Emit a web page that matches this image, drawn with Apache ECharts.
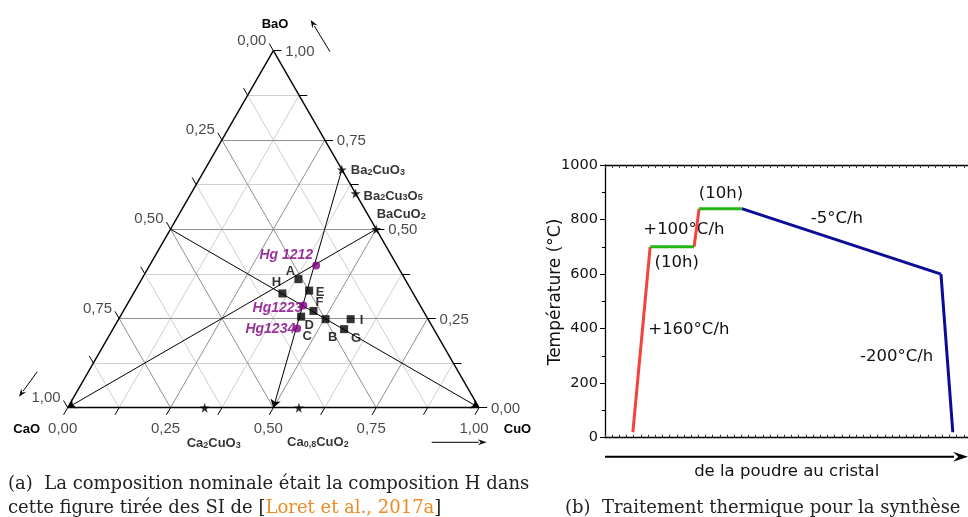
<!DOCTYPE html>
<html><head><meta charset="utf-8">
<script src="https://cdn.jsdelivr.net/npm/echarts@6/dist/echarts.min.js"></script>
<style>html,body{margin:0;padding:0;background:#fff;}#c{width:968px;height:517px;}</style>
</head><body><div id="c"></div>
<script>
// ===== (a) ternary diagram data: fractions of BaO and CuO (CaO = 1 - BaO - CuO)
const tickValues = [0, 0.25, 0.5, 0.75, 1];
const tickSteps = [0, 0.125, 0.25, 0.375, 0.5, 0.625, 0.75, 0.875, 1];
const gridSteps = [0.125, 0.25, 0.375, 0.5, 0.625, 0.75, 0.875];
const sampleNames = ['A', 'E', 'H', 'F', 'D', 'B', 'I', 'G', 'C'];
const sampleBaO   = [0.360, 0.328, 0.320, 0.271, 0.255, 0.248, 0.248, 0.220, 0.222];
const sampleCuO   = [0.381, 0.423, 0.362, 0.462, 0.440, 0.503, 0.564, 0.562, 0.447];
const hgNames = ['Hg 1212', 'Hg1223', 'Hg1234'];
const hgBaO   = [0.398, 0.286, 0.222];
const hgCuO   = [0.405, 0.430, 0.447];
const phaseNames = ['Ba2CuO3', 'Ba2Cu3O5', 'BaCuO2', 'Ca2CuO3', 'Ca0,8CuO2'];
const phaseBaO   = [0.667, 0.600, 0.500, 0, 0];
const phaseCuO   = [0.333, 0.400, 0.500, 0.333, 0.562];
const tieFromBaO = [0.5, 0.5, 0.667];
const tieFromCuO = [0.5, 0.0, 0.333];
const tieToBaO   = [0, 0, 0];
const tieToCuO   = [0, 1, 0.5];

// ===== (b) thermal treatment: time (h, arbitrary origin) and temperature (°C)
const rampTime  = [6.6, 10.7, 21.1, 22.3, 32.4, 79.6, 82.4];
const rampTemp  = [20, 700, 700, 840, 840, 600, 20];
const segColors = ['#f2443a', '#22b514', '#f2443a', '#22b514', '#0b0b98', '#0b0b98'];
const yTicks = [0, 200, 400, 600, 800, 1000];

// ---------- helpers / styles
const T = (bao, cuo) => [cuo + bao / 2, bao];
const fmt = v => v.toFixed(2).replace('.', ',');
const DARK = '#8f8f8f', LIGHT = '#d0d0d0';
const TK = 0.02;
const SANS = 'Liberation Sans, Arial, sans-serif';
const DJ = 'DejaVu Sans, sans-serif';
const SERIF = 'DejaVu Serif, serif';

const gridMajor = [], gridMinor = [];
gridSteps.forEach(s => {
  const arr = Math.abs(s * 4 - Math.round(s * 4)) < 1e-9 ? gridMajor : gridMinor;
  arr.push({ coords: [T(s, 0), T(s, 1 - s)] });
  arr.push({ coords: [T(0, s), T(1 - s, s)] });
  arr.push({ coords: [T(1 - s, 0), T(0, 1 - s)] });
});
const ticks = [];
tickSteps.forEach(s => {
  ticks.push({ coords: [T(1 - s, 0), T(1 - s + TK, -TK)] });   // left (CaO)
  ticks.push({ coords: [T(s, 1 - s), T(s, 1 - s + TK)] });     // right (BaO)
  ticks.push({ coords: [T(0, s), T(-TK, s)] });                // bottom (CuO)
});
const edges = [
  { coords: [T(0, 0), T(0, 1)] }, { coords: [T(0, 1), T(1, 0)] }, { coords: [T(1, 0), T(0, 0)] }
];
const ties = tieFromBaO.map((b, i) => ({ coords: [T(b, tieFromCuO[i]), T(tieToBaO[i], tieToCuO[i])] }));

const sampleOffsets = { A: [-8, -8], E: [11, 2], H: [-6, -11], F: [6, -9], D: [8, 9], B: [7, 18], I: [11, 1], G: [12, 9], C: [10, 8] };
const hgOffsets = { 'Hg 1212': [1, -10], 'Hg1223': [3, 3], 'Hg1234': [2, 1] };
const phaseLabel = {
  'Ba2CuO3': { position: 'right', distance: 4, offset: [0, -1] },
  'Ba2Cu3O5': { position: 'right', distance: 3, offset: [0, 1] },
  'BaCuO2': { position: 'inside', offset: [25, -16] },
  'Ca2CuO3': { position: 'inside', offset: [9, 34] },
  'Ca0,8CuO2': { position: 'inside', offset: [19, 33] }
};
const richName = n => n.split(/(\d+(?:,\d+)?)/).filter(p => p).map(p => /^\d/.test(p) ? '{s|' + p + '}' : '{n|' + p + '}').join('');
const STAR = 'path://M50,0 L61,35 L98,35 L68,57 L79,91 L50,70 L21,91 L32,57 L2,35 L39,35 Z';

const tickLabelSeries = (pts, vals, opt) => ({
  type: 'scatter', xAxisIndex: 0, yAxisIndex: 0, symbolSize: 0.01, silent: true, clip: false, z: 5,
  data: pts.map((p, i) => ({ value: p, name: fmt(vals[i]) })),
  label: Object.assign({ show: true, position: 'inside', formatter: '{b}', fontFamily: SANS, fontSize: 15, color: '#1a1a1a' }, opt)
});

function arrow(x1, y1, x2, y2, w, hl, hw) {
  const a = Math.atan2(y2 - y1, x2 - x1), c = Math.cos(a), s = Math.sin(a);
  const bx = x2 - hl * c, by = y2 - hl * s;
  return [
    { type: 'line', shape: { x1, y1, x2: bx + 1 * c, y2: by + 1 * s }, style: { stroke: '#000', lineWidth: w } },
    { type: 'polygon', shape: { points: [[x2, y2], [bx - hw * s, by + hw * c], [bx + 0.35 * hl * c, by + 0.35 * hl * s], [bx + hw * s, by - hw * c]] }, style: { fill: '#000' } }
  ];
}

const bSeries = segColors.map((col, i) => ({
  type: 'line', xAxisIndex: 1, yAxisIndex: 1, showSymbol: false, silent: true,
  lineStyle: { color: col, width: 3, cap: 'butt' }, z: 3 + (i % 2),
  data: [[rampTime[i], rampTemp[i]], [rampTime[i + 1], rampTemp[i + 1]]]
}));

const txt = (text, x, y, o) => ({ type: 'text', x, y, style: Object.assign({ text, fill: '#111', fontFamily: DJ, fontSize: 16.5, textVerticalAlign: 'middle' }, o) });
const bx = (pos) => ({ gridIndex: 1, type: 'value', min: 0, max: 86, interval: 1.7, position: pos,
  axisLine: { lineStyle: { color: '#000', width: 1.3 } },
  axisTick: { inside: true, length: 3, lineStyle: { color: '#333' } }, axisLabel: { show: false }, splitLine: { show: false } });

const option = {
  animation: false,
  backgroundColor: '#fff',
  grid: [
    { left: 67.7, top: 50.7, width: 411.3, height: 357 },
    { left: 605, top: 165, width: 363, height: 272.7 }
  ],
  xAxis: [
    { gridIndex: 0, type: 'value', min: 0, max: 1, show: false },
    bx('bottom'),
    bx('top')
  ],
  yAxis: [
    { gridIndex: 0, type: 'value', min: 0, max: 1, show: false },
    { gridIndex: 1, type: 'value', min: yTicks[0], max: yTicks[yTicks.length - 1], interval: yTicks[1] - yTicks[0],
      axisLine: { show: true, lineStyle: { color: '#000', width: 1.3 } },
      axisTick: { show: true, length: 5, lineStyle: { color: '#000' } },
      minorTick: { show: true, splitNumber: 2, length: 3, lineStyle: { color: '#000' } },
      axisLabel: { fontFamily: DJ, fontSize: 14.5, color: '#111', margin: 7, formatter: v => String(v) },
      splitLine: { show: false } }
  ],
  series: [
    { type: 'lines', coordinateSystem: 'cartesian2d', xAxisIndex: 0, yAxisIndex: 0, silent: true, clip: false, z: 1,
      lineStyle: { color: LIGHT, width: 1, opacity: 1 }, data: gridMinor },
    { type: 'lines', coordinateSystem: 'cartesian2d', xAxisIndex: 0, yAxisIndex: 0, silent: true, clip: false, z: 1,
      lineStyle: { color: DARK, width: 1, opacity: 1 }, data: gridMajor },
    { type: 'lines', coordinateSystem: 'cartesian2d', xAxisIndex: 0, yAxisIndex: 0, silent: true, clip: false, z: 2,
      lineStyle: { color: '#000', width: 1, opacity: 1 }, data: ticks },
    { type: 'lines', coordinateSystem: 'cartesian2d', xAxisIndex: 0, yAxisIndex: 0, silent: true, clip: false, z: 2,
      lineStyle: { color: '#000', width: 1.4, opacity: 1 }, data: edges },
    { type: 'lines', coordinateSystem: 'cartesian2d', xAxisIndex: 0, yAxisIndex: 0, silent: true, clip: false, z: 3,
      symbol: ['none', 'arrow'], symbolSize: 8,
      lineStyle: { color: '#000', width: 1, opacity: 1 }, data: ties },
    tickLabelSeries(tickValues.map(c => T(1 - c, 0)), tickValues, { align: 'right', offset: [-7, -10] }),
    tickLabelSeries(tickValues.map(b => T(b, 1 - b)), tickValues, { align: 'left', offset: [12, 1] }),
    tickLabelSeries(tickValues.map(u => T(0, u)), tickValues, { align: 'center', offset: [-5, 21] }),
    { type: 'scatter', xAxisIndex: 0, yAxisIndex: 0, silent: true, clip: false, z: 6,
      symbol: STAR, symbolSize: 10, itemStyle: { color: '#000' },
      data: phaseNames.map((n, i) => ({ name: n, value: T(phaseBaO[i], phaseCuO[i]), label: phaseLabel[n] })),
      label: { show: true, formatter: p => richName(p.name), color: '#000',
        rich: { n: { fontFamily: SANS, fontSize: 13, fontWeight: 'bold', color: '#000', lineHeight: 16, verticalAlign: 'bottom' },
                s: { fontFamily: SANS, fontSize: 9, fontWeight: 'bold', color: '#000', lineHeight: 5, verticalAlign: 'bottom' } } } },
    { type: 'scatter', xAxisIndex: 0, yAxisIndex: 0, silent: true, clip: false, z: 6,
      symbol: 'rect', symbolSize: 8, itemStyle: { color: '#000' },
      data: sampleNames.map((n, i) => ({ name: n, value: T(sampleBaO[i], sampleCuO[i]), symbolSize: n === 'C' ? 0.01 : 8, label: { offset: sampleOffsets[n] } })),
      label: { show: true, position: 'inside', formatter: '{b}', fontFamily: SANS, fontSize: 13, fontWeight: 'bold', color: '#000' } },
    { type: 'scatter', xAxisIndex: 0, yAxisIndex: 0, silent: true, clip: false, z: 7,
      symbol: 'circle', symbolSize: 8, itemStyle: { color: '#800080' },
      data: hgNames.map((n, i) => ({ name: n, value: T(hgBaO[i], hgCuO[i]), label: { offset: hgOffsets[n] } })),
      label: { show: true, position: 'left', distance: 0, formatter: '{b}', fontFamily: SANS, fontSize: 14, fontWeight: 'bold', fontStyle: 'italic', color: '#800080' } }
  ].concat(bSeries),
  graphic: [].concat(
    arrow(330, 51.7, 310.7, 20, 1, 8, 3),
    arrow(37.3, 371.7, 19, 396.7, 1, 8, 3),
    arrow(431.7, 442.3, 486.7, 442.3, 1, 9, 3),
    arrow(605, 456.7, 968, 456.7, 2, 15, 5),
    [
      txt('BaO', 275, 24, { fontFamily: SANS, fontWeight: 'bold', fontSize: 13, textAlign: 'center', fill: '#000' }),
      txt('CaO', 26.7, 429.3, { fontFamily: SANS, fontWeight: 'bold', fontSize: 13, textAlign: 'center', fill: '#000' }),
      txt('CuO', 517.5, 429.3, { fontFamily: SANS, fontWeight: 'bold', fontSize: 13, textAlign: 'center', fill: '#000' }),
      { type: 'text', x: 556, y: 292, rotation: Math.PI / 2,
        style: { text: 'Température (°C)', fill: '#111', fontFamily: DJ, fontSize: 17, textAlign: 'center', textVerticalAlign: 'middle' } },
      txt('(10h)', 721, 193.3, { textAlign: 'center' }),
      txt('+100°C/h', 643.3, 230, { textAlign: 'left' }),
      txt('(10h)', 676.7, 262.7, { textAlign: 'center' }),
      txt('+160°C/h', 648.3, 330, { textAlign: 'left' }),
      txt('-5°C/h', 810.7, 218.3, { textAlign: 'left' }),
      txt('-200°C/h', 860, 356.7, { textAlign: 'left' }),
      txt('de la poudre au cristal', 786.7, 471.7, { textAlign: 'center' }),
      { type: 'text', x: 8, y: 484, style: { text: '(a)  La composition nominale était la composition H dans', fontFamily: SERIF, fontSize: 18, fill: '#222', textVerticalAlign: 'middle' } },
      { type: 'text', x: 8, y: 508, style: { text: 'cette figure tirée des SI de [{o|Loret et al., 2017a}]', fontFamily: SERIF, fontSize: 18, fill: '#222', textVerticalAlign: 'middle',
          rich: { o: { fontFamily: SERIF, fontSize: 18, fill: '#f08a24', color: '#f08a24' } } } },
      { type: 'text', x: 565, y: 508, style: { text: '(b)  Traitement thermique pour la synthèse', fontFamily: SERIF, fontSize: 18, fill: '#222', textVerticalAlign: 'middle' } }
    ]
  )
};
const chart = echarts.init(document.getElementById('c'), null, { renderer: 'canvas' });
chart.setOption(option);
</script>
</body></html>
